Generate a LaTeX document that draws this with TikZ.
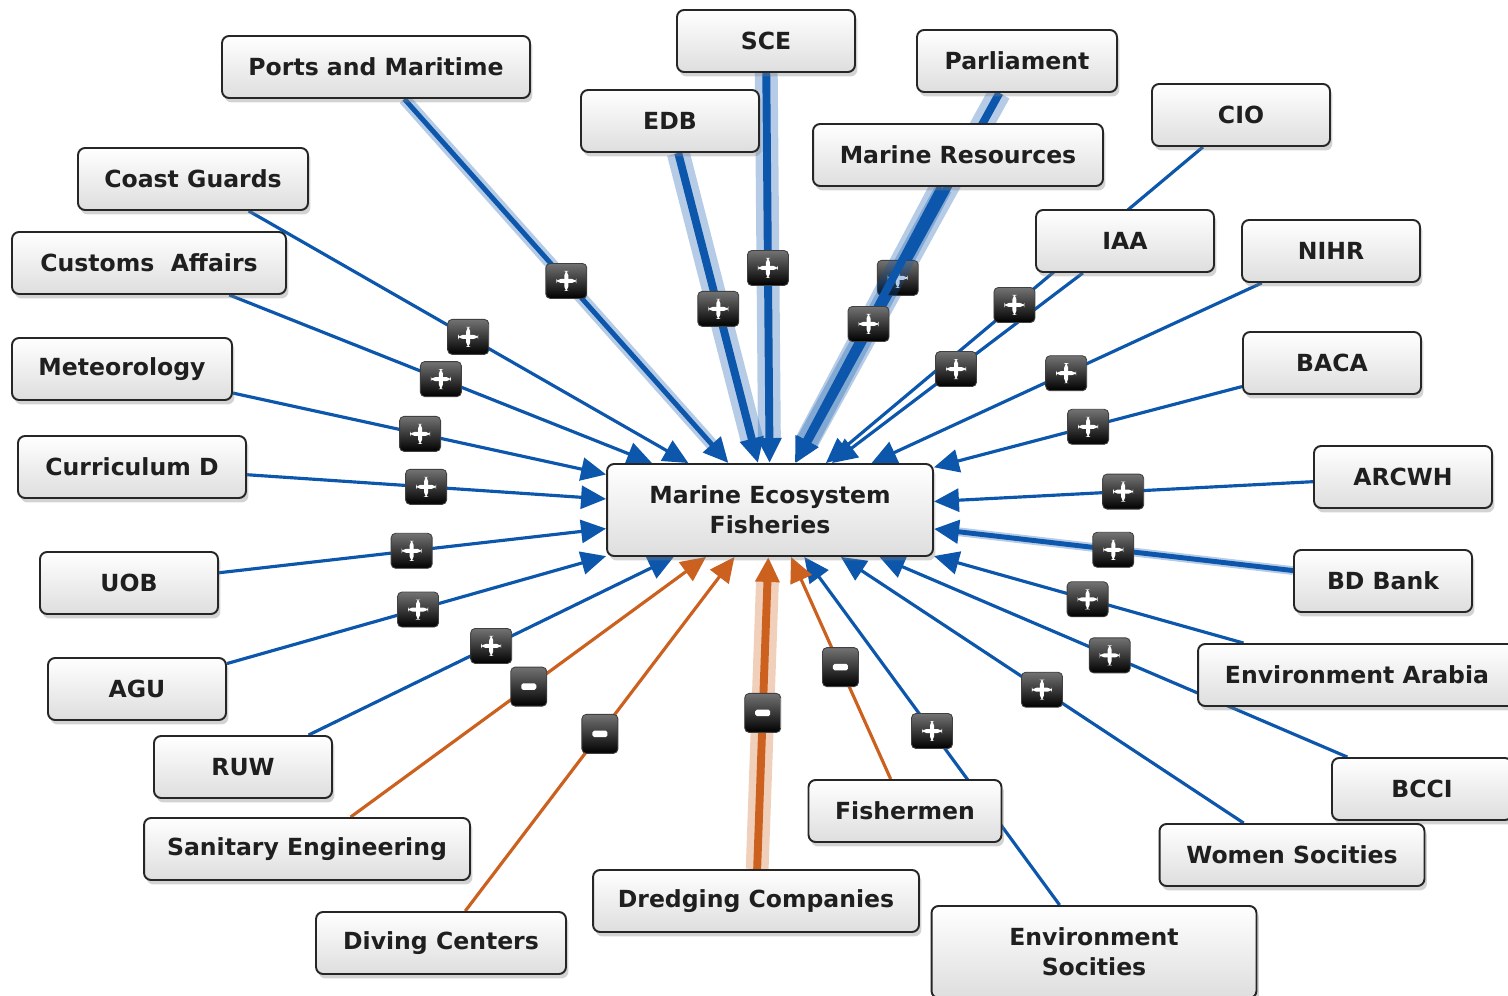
\documentclass[tikz,border=0pt]{standalone}
\usepackage{fontspec}
\setmainfont{DejaVu Sans}
\usetikzlibrary{arrows.meta,calc,shadows}
\pgfdeclarelayer{edges}
\pgfsetlayers{edges,main}
\definecolor{linkblue}{RGB}{12,86,172}
\definecolor{linkorange}{RGB}{204,96,30}
\tikzset{
  actor/.style={draw=black!85, line width=1.1pt, rounded corners=4pt,
    top color=white, bottom color=black!13, minimum width=3.56cm,
    minimum height=1.24cm, inner sep=0pt, align=center,
    font=\bfseries\fontsize{13.4}{17}\selectfont, text=black!88,
    drop shadow={shadow xshift=0.05cm, shadow yshift=-0.09cm, opacity=0.35}},
  link/.style={draw=linkblue, line width=1.8pt, -{Triangle[length=0.5cm,width=0.46cm]}},
  neglink/.style={link, draw=linkorange},
  medium/.style={line width=2.8pt},
  heavy/.style={line width=4.5pt},
  glow/.style={opacity=0.3, line width=#1, shorten >=0.45cm},
  signbox/.style={rounded corners=2.5pt, draw=black!75, line width=0.5pt,
    top color=black!55, bottom color=black, minimum width=0.82cm,
    minimum height=0.7cm, inner sep=0pt},
  plusmark/.style={signbox, path picture={
    \fill[white] ([shift={(-0.2cm,-0.04cm)}]path picture bounding box.center)
      rectangle ([shift={(0.2cm,0.04cm)}]path picture bounding box.center);
    \fill[white] ([shift={(-0.04cm,-0.2cm)}]path picture bounding box.center)
      rectangle ([shift={(0.04cm,0.2cm)}]path picture bounding box.center);}},
  minusmark/.style={signbox, minimum width=0.72cm, minimum height=0.78cm, path picture={
    \fill[white, rounded corners=1pt] ([shift={(-0.15cm,-0.065cm)}]path picture bounding box.center)
      rectangle ([shift={(0.15cm,0.065cm)}]path picture bounding box.center);}}
}

\begin{document}
\begin{tikzpicture}[x=0.02cm, y=-0.02cm]
  \useasboundingbox (0,0) rectangle (1508,996);
  % centre
  \node[actor, minimum width=6.52cm, minimum height=1.84cm] (mef) at (770,510) {Marine Ecosystem\\Fisheries};
  % top
  \node[actor] (sce) at (766,41) {SCE};
  \node[actor, minimum width=6.16cm] (pm) at (376,67) {Ports and Maritime};
  \node[actor, minimum width=4cm] (par) at (1017,61) {Parliament};
  \node[actor] (edb) at (670,121) {EDB};
  \node[actor, minimum width=5.8cm] (mr) at (958,155) {Marine Resources};
  \node[actor] (cio) at (1241,115) {CIO};
  \node[actor] (iaa) at (1125,241) {IAA};
  % left
  \node[actor, minimum width=4.6cm] (cg) at (193,179) {Coast Guards};
  \node[actor, minimum width=5.48cm] (ca) at (149,263) {Customs\ \ Affairs};
  \node[actor, minimum width=4.4cm] (met) at (122,369) {Meteorology};
  \node[actor, minimum width=4.56cm] (cur) at (132,467) {Curriculum D};
  \node[actor] (uob) at (129,583) {UOB};
  \node[actor] (agu) at (137,689) {AGU};
  \node[actor] (ruw) at (243,767) {RUW};
  % right
  \node[actor] (nihr) at (1331,251) {NIHR};
  \node[actor] (baca) at (1332,363) {BACA};
  \node[actor] (arc) at (1403,477) {ARCWH};
  \node[actor] (bd) at (1383,581) {BD Bank};
  \node[actor, minimum width=6.36cm] (ea) at (1357,675) {Environment Arabia};
  \node[actor, minimum width=3.6cm] (bcci) at (1422,789) {BCCI};
  % bottom
  \node[actor, minimum width=6.52cm] (se) at (307,849) {Sanitary Engineering};
  \node[actor, minimum width=5cm] (dc) at (441,943) {Diving Centers};
  \node[actor, minimum width=6.52cm] (dco) at (756,901) {Dredging Companies};
  \node[actor, minimum width=3.86cm] (fm) at (905,811) {Fishermen};
  \node[actor, minimum width=6.5cm, minimum height=1.84cm] (es) at (1094,952) {Environment\\Socities};
  \node[actor, minimum width=5.3cm] (ws) at (1292,855) {Women Socities};

  \begin{pgfonlayer}{edges}
    \foreach \src in {cg,ca,met,cur,uob,agu,ruw,es,ws,bcci,ea,arc,baca,nihr,iaa,cio}
      \draw[link] (\src) -- (mef);
    \foreach \src in {se,dc,fm}
      \draw[neglink] (\src) -- (mef);
    \draw[glow=7pt, draw=linkblue] (pm) -- (mef);
    \draw[link, medium] (pm) -- (mef);
    \draw[glow=5pt, draw=linkblue] (bd) -- (mef);
    \draw[link, medium] (bd) -- (mef);
    \draw[glow=13pt, draw=linkorange] (dco) -- (mef);
    \draw[neglink, heavy] (dco) -- (mef);
    \foreach \src in {sce,edb,par}{
      \draw[glow=13pt, draw=linkblue] (\src) -- (mef);
      \draw[link, heavy] (\src) -- (mef);
    }
    \node[plusmark] (s-par) at ($(par)!0.483!(mef)$) {};
    \draw[glow=13pt, draw=linkblue] (mr) -- (mef);
    \draw[link, heavy] (mr) -- (mef);
  \end{pgfonlayer}

  % signs
  \foreach \src/\f in {pm/0.483, cg/0.477, ca/0.47, met/0.46, cur/0.461, uob/0.441,
      agu/0.444, ruw/0.471, es/0.5, ws/0.479, bcci/0.479, ea/0.459, bd/0.44,
      arc/0.442, baca/0.434, nihr/0.472, iaa/0.476, cio/0.481, mr/0.476,
      edb/0.483, sce/0.484}
    \node[plusmark] (s-\src) at ($(\src)!\f!(mef)$) {};
  \foreach \src/\f in {se/0.479, dc/0.483, dco/0.481, fm/0.478}
    \node[minusmark] (s-\src) at ($(\src)!\f!(mef)$) {};
\end{tikzpicture}
\end{document}
